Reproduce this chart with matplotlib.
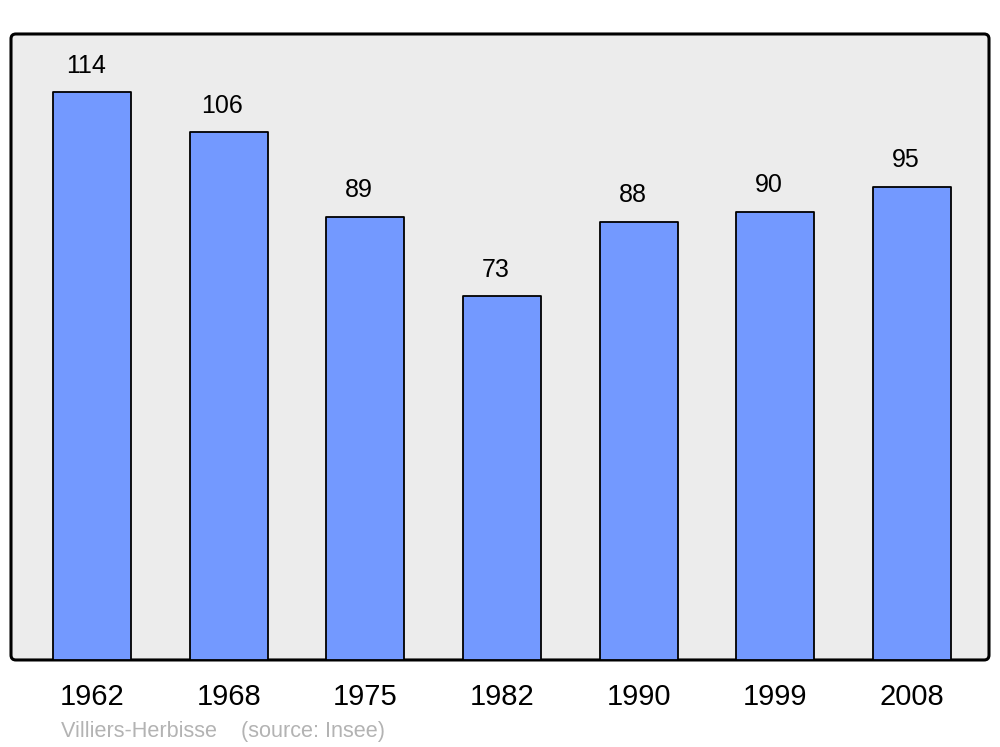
import matplotlib
import matplotlib.pyplot as plt
from matplotlib.patches import FancyBboxPatch
from matplotlib.transforms import offset_copy

matplotlib.use("Agg")
plt.rcParams["font.family"] = ["Liberation Sans", "DejaVu Sans"]

years = ["1962", "1968", "1975", "1982", "1990", "1999", "2008"]
population = [114, 106, 89, 73, 88, 90, 95]

bar_color = "#7399ff"
panel_color = "#ececec"

fig = plt.figure(figsize=(10, 7.47), dpi=100)
ax = fig.add_axes([0.011, 0.1165, 0.978, 0.838])
ax.patch.set_visible(False)

# rounded panel behind the bars
panel = FancyBboxPatch(
    (0, 0), 1, 1,
    boxstyle="round,pad=0,rounding_size=0.005",
    mutation_aspect=1.56,
    transform=ax.transAxes,
    facecolor=panel_color,
    edgecolor="black",
    linewidth=2.2,
    zorder=0,
    clip_on=False,
)
ax.add_patch(panel)

x = list(range(len(years)))
bars = ax.bar(
    x, population, width=0.57, color=bar_color,
    edgecolor="black", linewidth=1.3, zorder=2,
)
for b in bars:
    b.set_joinstyle("round")

# value labels sit a little left of the bar centre, like the original
label_tr = offset_copy(ax.transData, fig=fig, x=-4.5, y=14, units="points")
for xi, v in zip(x, population):
    ax.text(xi, v, str(v), ha="center", va="baseline", fontsize=18,
            transform=label_tr)

ax.set_xlim(-0.593, 6.563)
ax.set_ylim(0, 125.7)
ax.set_xticks(x)
ax.set_xticklabels(years, fontsize=21)
ax.tick_params(axis="x", length=0, pad=16.5)
ax.set_yticks([])
for s in ax.spines.values():
    s.set_visible(False)

fig.text(0.061, 1 - 737 / 747, "Villiers-Herbisse    (source: Insee)",
         color="#b3b3b3", fontsize=15.6, va="baseline", ha="left")

fig.savefig("out.png", dpi=100)
